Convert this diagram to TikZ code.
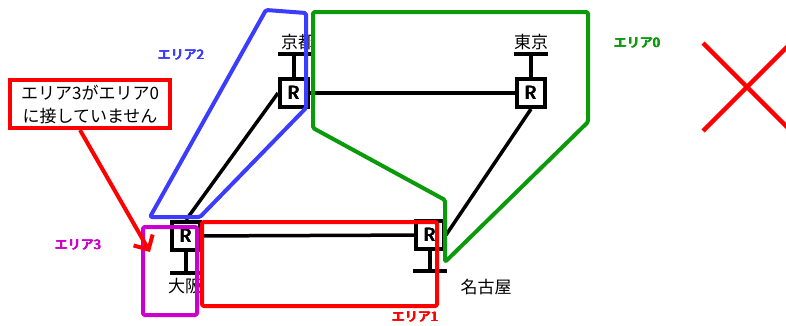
\documentclass[tikz,border=0pt]{standalone}
\usepackage{fontspec}
\newfontfamily\jp{Noto Sans CJK JP}
\newcommand\heavytext[1]{\rlap{#1}\rlap{\raisebox{0.5pt}{#1}}\hspace{0.6pt}\rlap{#1}\rlap{\raisebox{0.5pt}{#1}}\hspace{0.6pt}#1}
\usetikzlibrary{arrows.meta}
\usetikzlibrary{positioning}
\definecolor{nw-red}{HTML}{FF0000}
\definecolor{nw-blue}{HTML}{3C3CFF}
\definecolor{nw-green}{HTML}{0A9A0A}
\definecolor{nw-magenta}{HTML}{CC00CC}

\begin{document}
\begin{tikzpicture}[x=1pt, y=-1pt,
    router/.style={draw, fill=white, line width=4pt, minimum width=28pt, minimum height=28pt, inner sep=0pt, font=\jp\fontsize{18}{18}\selectfont},
    stub/.style={line width=4.5pt},
    link/.style={line width=3.5pt},
    area/.style={line width=4pt, line join=round, rounded corners=1.5pt},
    city/.style={font=\jp\fontsize{17}{17}\selectfont},
    arealabel/.style={font=\jp\fontsize{13}{13}\selectfont}]
    \useasboundingbox (0,0) rectangle (786,325);
    % routers
    \node[router] (kyoto) at (294,93) {\heavytext{R}};
    \node[router] (tokyo) at (531,93) {\heavytext{R}};
    \node[router] (osaka) at (186,236) {\heavytext{R}};
    \node[router] (nagoya) at (430,235) {\heavytext{R}};
    % links
    \draw[link] (kyoto) -- (tokyo);
    \draw[link] (osaka) -- (nagoya);
    \draw[link] (kyoto.west) -- (osaka.north);
    \draw[link] (tokyo.south) -- (nagoya.east);
    % stubs
    \draw[stub] (kyoto.north) -- ++(0,-23) coordinate (kyoto-bar);
    \draw[stub] ([xshift=-16pt]kyoto-bar) -- ([xshift=17pt]kyoto-bar);
    \draw[stub] (tokyo.north) -- ++(0,-23) coordinate (tokyo-bar);
    \draw[stub] ([xshift=-17pt]tokyo-bar) -- ([xshift=17pt]tokyo-bar);
    \draw[stub] (osaka.south) -- ++(0,21) coordinate (osaka-bar);
    \draw[stub] ([xshift=-16pt]osaka-bar) -- ([xshift=15pt]osaka-bar);
    \draw[stub] (nagoya.south) -- ++(0,20) coordinate (nagoya-bar);
    \draw[stub] ([xshift=-17pt]nagoya-bar) -- ([xshift=17pt]nagoya-bar);
    \node[city] (kyoto-name) at (298,42) {京都};
    \node[city] (tokyo-name) at (531,42) {東京};
    \node[city] (osaka-name) at (185,286) {大阪};
    \node[city] (nagoya-name) at (486,287) {名古屋};
    % areas
    \draw[area, nw-green] (313,12) -- (588,12) -- (588,122) -- (445,262) -- (445,200) -- (313,128) -- cycle;
    \draw[area, nw-blue] (266,10) -- (306,13) -- (306,108) -- (200,217) -- (150,217) -- cycle;
    \draw[area, nw-red] (202,222) rectangle (437,306);
    \draw[area, nw-magenta] (143,227) rectangle (197,315);
    \node[arealabel, nw-green] (area0-name) at (637,43) {\heavytext{エリア0}};
    \node[arealabel, nw-red] (area1-name) at (415,317) {\heavytext{エリア1}};
    \node[arealabel, nw-blue] (area2-name) at (181,55) {\heavytext{エリア2}};
    \node[arealabel, nw-magenta] (area3-name) at (78,245) {\heavytext{エリア3}};
    % callout
    \node[draw=nw-red, line width=4pt, fill=white, minimum width=160pt, minimum height=48pt, inner sep=1pt, align=center, font=\jp\fontsize{17}{23}\selectfont] (note) at (90,104) {エリア3がエリア0\\に接していません};
    \coordinate (area3-hit) at (150,252);
    \draw[nw-red, line width=4pt, -{Straight Barb[length=11pt, width=22pt]}] ([xshift=-10pt]note.south) -- (area3-hit);
    % cross
    \begin{scope}
        \clip (0,0) rectangle (786,325);
        \draw[nw-red, line width=4.5pt] (703,43) -- (791,131);
        \draw[nw-red, line width=4.5pt] (703,131) -- (791,43);
    \end{scope}
\end{tikzpicture}
\end{document}
